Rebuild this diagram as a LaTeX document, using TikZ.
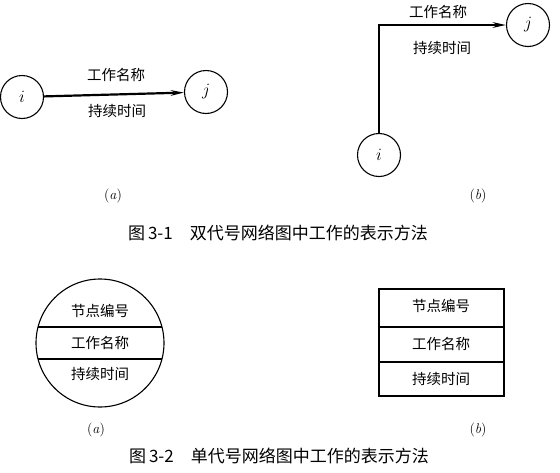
\documentclass[tikz,border=0pt]{standalone}
\usepackage{fontspec}
\newfontfamily\cjk{Noto Sans CJK SC}
\usetikzlibrary{arrows.meta}
\begin{document}
\begin{tikzpicture}[x=1pt,y=-1pt,
  ev/.style={draw,circle,minimum size=43pt,inner sep=0pt,line width=1.1pt,font=\fontsize{16}{18}\selectfont},
  act/.style={line width=2.2pt,-{Stealth[length=13pt,width=5.5pt]}},
  lab/.style={font=\cjk\fontsize{14.5}{16}\selectfont},
  sub/.style={font=\fontsize{14}{16}\selectfont},
  captxt/.style={font=\cjk\fontsize{17}{20}\selectfont},
  box/.style={line width=1.1pt}]
\useasboundingbox (0,0) rectangle (560,472);
% Fig 3-1 (a)
\node[ev] (ia) at (22,97) {$i$};
\node[ev] (ja) at (206,92) {$j$};
\draw[act] (ia) -- (ja);
\node[lab] (na) at (116,75) {工作名称};
\node[lab] (da) at (117,111) {持续时间};
\node[sub] (sa) at (113,196) {(\textit{a})};
% Fig 3-1 (b)
\node[ev] (ib) at (379,155) {$i$};
\node[ev] (jb) at (528,25) {$j$};
\draw[act] (ib.north) |- (jb);
\node[lab] (nb) at (438,12) {工作名称};
\node[lab] (db) at (442,48) {持续时间};
\node[sub] (sb) at (478,196) {(\textit{b})};
\node[captxt] (c1) at (278,233) {图\,3-1\quad 双代号网络图中工作的表示方法};
% Fig 3-2 (a)
\node[draw,circle,minimum size=128pt,inner sep=0pt,line width=1.1pt] (ca) at (100,343) {};
\begin{scope}
\clip (100,343) circle (64);
\draw[box] (30,327) -- (170,327);
\draw[box] (30,359) -- (170,359);
\end{scope}
\node[lab] (t1) at (100,311) {节点编号};
\node[lab] (t2) at (100,343) {工作名称};
\node[lab] (t3) at (100,374) {持续时间};
\node[sub] (sc) at (96,430) {(\textit{a})};
% Fig 3-2 (b)
\draw[box] (379,289) rectangle (504,396);
\draw[box] (379,327) -- (504,327);
\draw[box] (379,362) -- (504,362);
\node[lab] (r1) at (441,306) {节点编号};
\node[lab] (r2) at (441,344) {工作名称};
\node[lab] (r3) at (441,379) {持续时间};
\node[sub] (sd) at (478,430) {(\textit{b})};
\node[captxt] (c2) at (279,456) {图\,3-2\quad 单代号网络图中工作的表示方法};
\end{tikzpicture}
\end{document}
